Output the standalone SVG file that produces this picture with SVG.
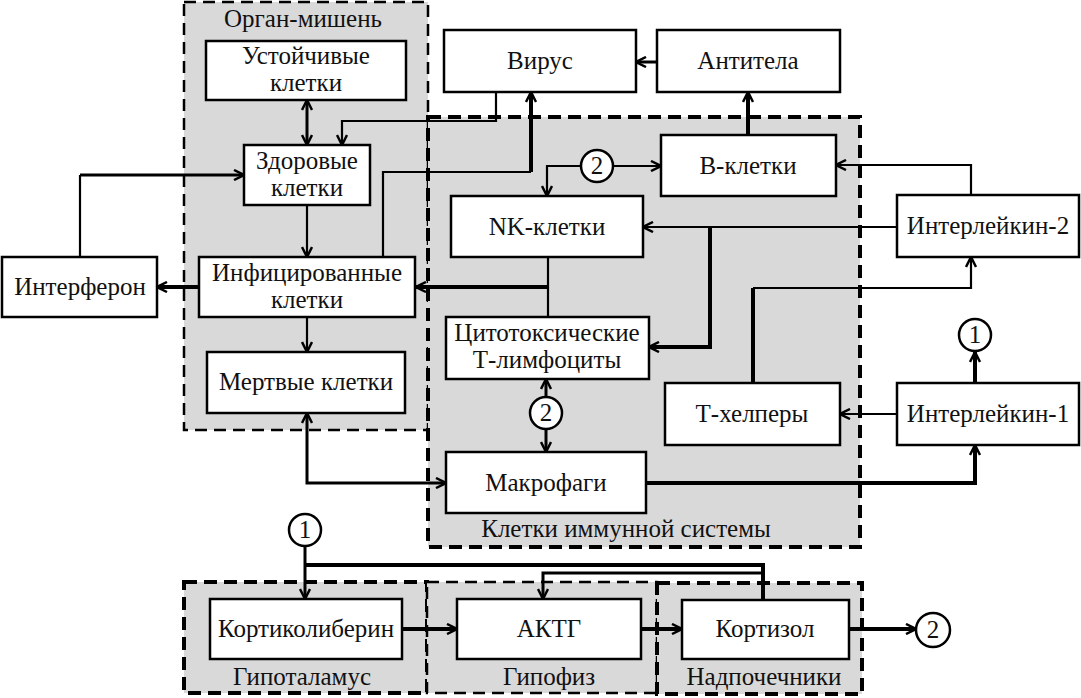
<svg xmlns="http://www.w3.org/2000/svg" width="1081" height="698" viewBox="0 0 1081 698">
<style>
.reg{fill:#d9d9d9;stroke:#000;stroke-width:4;stroke-dasharray:13 7}
.reg2{fill:#d9d9d9;stroke:#000;stroke-width:2.5;stroke-dasharray:12 7}
.box{fill:#fff;stroke:#000;stroke-width:2.5}
.t{font-family:"Liberation Serif","Times New Roman",serif;font-size:25px;fill:#111;text-anchor:middle}
.c{fill:#fff;stroke:#000;stroke-width:2.5}
.th{fill:none;stroke:#000;stroke-width:2.2}
.md{fill:none;stroke:#000;stroke-width:3}
.tk{fill:none;stroke:#000;stroke-width:4}
</style>
<defs>
<marker id="a" viewBox="0 0 12 12" refX="11" refY="6" markerWidth="12" markerHeight="12" markerUnits="userSpaceOnUse" orient="auto-start-reverse">
<path d="M1,1 L11,6 L1,11" fill="none" stroke="#000" stroke-width="2.5"/>
</marker>
</defs>
<rect width="1081" height="698" fill="#fff"/>
<g id="regions">
<rect class="reg2" x="184" y="2" width="244" height="428"/>
<rect class="reg" x="428" y="117" width="432" height="430"/>
<rect class="reg" x="184" y="582" width="243" height="111"/>
<rect class="reg2" x="427" y="582" width="230" height="111"/>
<rect class="reg" x="657" y="583" width="205" height="111"/>
<text class="t" x="303" y="27">Орган-мишень</text>
<text class="t" x="626" y="537">Клетки иммунной системы</text>
<text class="t" x="302" y="685">Гипоталамус</text>
<text class="t" x="549" y="685">Гипофиз</text>
<text class="t" x="764" y="685">Надпочечники</text>
</g>
<g id="connectors">
<path class="md" d="M307,100 V145" marker-start="url(#a)" marker-end="url(#a)"/>
<path class="th" d="M496,92 V121 H342 V145" marker-end="url(#a)"/>
<path class="th" d="M80,257 V175"/>
<path class="md" d="M80,175 H244" marker-end="url(#a)"/>
<path class="th" d="M307,205 V257" marker-end="url(#a)"/>
<path class="th" d="M307,317 V352" marker-end="url(#a)"/>
<path class="tk" d="M200,287 H157" marker-end="url(#a)"/>
<path class="th" d="M383,257 V172 H531"/>
<path class="tk" d="M531,172 V92" marker-end="url(#a)"/>
<path class="md" d="M657,62 H636" marker-end="url(#a)"/>
<path class="tk" d="M748,135 V92" marker-end="url(#a)"/>
<path class="th" d="M613,166 H661" marker-end="url(#a)"/>
<path class="th" d="M581,166 H547 V196" marker-end="url(#a)"/>
<path class="th" d="M971,195 V165 H836" marker-end="url(#a)"/>
<path class="th" d="M897,227 H643" marker-end="url(#a)"/>
<path class="tk" d="M710,227 V347 H649" marker-end="url(#a)"/>
<path class="th" d="M548,257 V317"/>
<path class="tk" d="M548,287 H416" marker-end="url(#a)"/>
<path class="tk" d="M753,383 V288"/>
<path class="th" d="M753,288 H971 V257" marker-end="url(#a)"/>
<path class="th" d="M897,414 H840" marker-end="url(#a)"/>
<path class="tk" d="M975,383 V352" marker-end="url(#a)"/>
<path class="tk" d="M646,483 H975 V445" marker-end="url(#a)"/>
<path class="md" d="M546,397 V379" marker-end="url(#a)"/>
<path class="md" d="M546,429 V452" marker-end="url(#a)"/>
<path class="md" d="M307,413 V483 H446" marker-start="url(#a)" marker-end="url(#a)"/>
<path class="md" d="M305,546 V599" marker-end="url(#a)"/>
<path class="tk" d="M763,600 V565 H305"/>
<path class="md" d="M763,573 H543 V599" marker-end="url(#a)"/>
<path class="tk" d="M402,629 H457" marker-end="url(#a)"/>
<path class="tk" d="M641,629 H682" marker-end="url(#a)"/>
<path class="tk" d="M849,629 H916" marker-end="url(#a)"/>
</g>
<g id="n-stable"><rect class="box" x="206" y="41" width="200" height="59"/><text class="t" x="306" y="64">Устойчивые</text><text class="t" x="306" y="91">клетки</text></g>
<g id="n-healthy"><rect class="box" x="244" y="145" width="126" height="60"/><text class="t" x="307" y="169">Здоровые</text><text class="t" x="307" y="196">клетки</text></g>
<g id="n-infected"><rect class="box" x="199" y="257" width="216" height="60"/><text class="t" x="307" y="281">Инфицированные</text><text class="t" x="307" y="308">клетки</text></g>
<g id="n-dead"><rect class="box" x="207" y="352" width="198" height="61"/><text class="t" x="306" y="390">Мертвые клетки</text></g>
<g id="n-interferon"><rect class="box" x="2" y="257" width="155" height="60"/><text class="t" x="80" y="295">Интерферон</text></g>
<g id="n-virus"><rect class="box" x="444" y="30" width="192" height="62"/><text class="t" x="540" y="69">Вирус</text></g>
<g id="n-antibodies"><rect class="box" x="657" y="30" width="183" height="62"/><text class="t" x="748" y="69">Антитела</text></g>
<g id="n-b"><rect class="box" x="661" y="135" width="175" height="61"/><text class="t" x="748" y="174">В-клетки</text></g>
<g id="n-nk"><rect class="box" x="451" y="196" width="192" height="61"/><text class="t" x="547" y="235">NK-клетки</text></g>
<g id="n-ctl"><rect class="box" x="446" y="317" width="203" height="62"/><text class="t" x="547" y="341">Цитотоксические</text><text class="t" x="547" y="368">Т-лимфоциты</text></g>
<g id="n-macro"><rect class="box" x="446" y="452" width="200" height="61"/><text class="t" x="546" y="491">Макрофаги</text></g>
<g id="n-th"><rect class="box" x="665" y="383" width="175" height="62"/><text class="t" x="752" y="422">Т-хелперы</text></g>
<g id="n-il2"><rect class="box" x="897" y="195" width="182" height="62"/><text class="t" x="988" y="234">Интерлейкин-2</text></g>
<g id="n-il1"><rect class="box" x="897" y="383" width="182" height="62"/><text class="t" x="988" y="422">Интерлейкин-1</text></g>
<g id="n-crh"><rect class="box" x="210" y="599" width="192" height="60"/><text class="t" x="306" y="637">Кортиколиберин</text></g>
<g id="n-acth"><rect class="box" x="457" y="599" width="184" height="60"/><text class="t" x="549" y="637">АКТГ</text></g>
<g id="n-cortisol"><rect class="box" x="682" y="600" width="167" height="59"/><text class="t" x="765" y="637">Кортизол</text></g>
<g id="c2-top"><circle class="c" cx="597" cy="166" r="16"/><text class="t" x="597" y="174">2</text></g>
<g id="c2-mid"><circle class="c" cx="546" cy="413" r="16"/><text class="t" x="546" y="421">2</text></g>
<g id="c1-right"><circle class="c" cx="975" cy="335" r="16"/><text class="t" x="975" y="343">1</text></g>
<g id="c1-bottom"><circle class="c" cx="305" cy="530" r="16"/><text class="t" x="305" y="538">1</text></g>
<g id="c2-bottom"><circle class="c" cx="933" cy="630" r="17"/><text class="t" x="933" y="638">2</text></g>
</svg>
